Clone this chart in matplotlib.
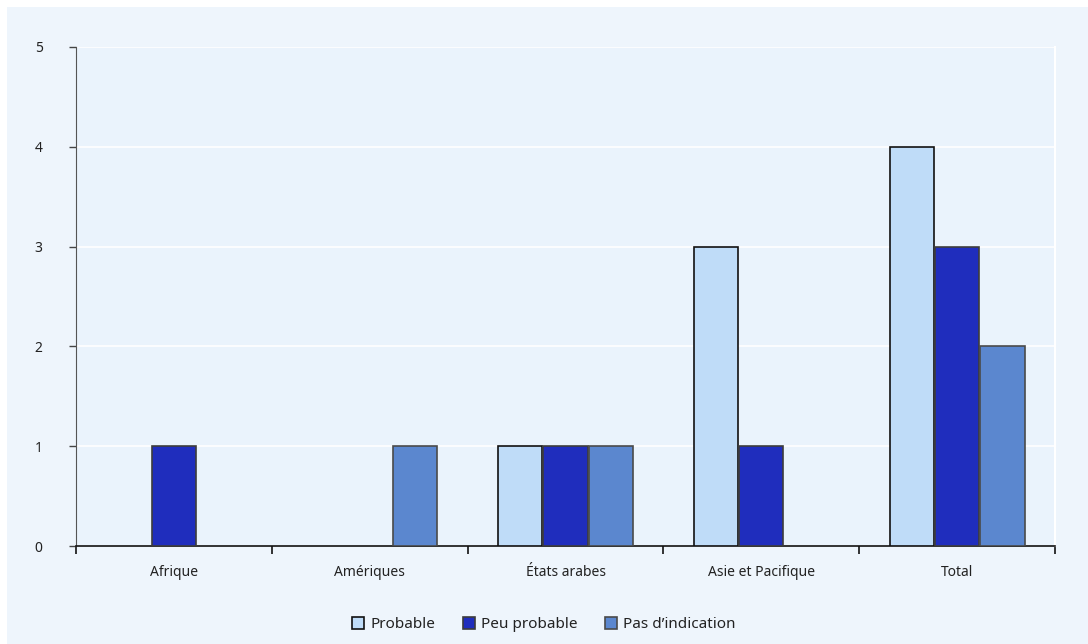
import numpy as np
import matplotlib.pyplot as plt
from matplotlib.patches import Rectangle

plt.rcParams['font.family'] = ['Noto Sans', 'DejaVu Sans']

regions = ["Afrique", "Amériques", "États arabes", "Asie et Pacifique", "Total"]
series_names = ["Probable", "Peu probable", "Pas d’indication"]
probable = [0, 0, 1, 3, 4]
peu_probable = [1, 0, 1, 1, 3]
pas_indication = [0, 1, 1, 0, 2]

colors = ["#bfdcf8", "#1f2dbd", "#5b87cf"]
edges = ["#111111", "#3c3c3c", "#4a4a4a"]

fig = plt.figure(figsize=(10.88, 6.44), dpi=100, facecolor="white")
# light panel behind everything, with a thin white margin
fig.patches.append(Rectangle((7 / 1088, 0), 1 - 7 / 1088, 1 - 7 / 644,
                             transform=fig.transFigure, facecolor="#eef5fc",
                             edgecolor="none", zorder=-10))

ax = fig.add_axes([76 / 1088, 1 - 546 / 644, (1055 - 76) / 1088, (546 - 47) / 644])
ax.set_facecolor("#eaf3fc")

x = np.arange(len(regions))
w = 0.225
step = 0.232
handles = []
for i, (vals, c, ec) in enumerate(zip([probable, peu_probable, pas_indication], colors, edges)):
    bars = ax.bar(x + (i - 1) * step, vals, width=w, color=c, edgecolor=ec,
                  linewidth=1.2, zorder=3)
    # empty categories get no outline
    for b, v in zip(bars, vals):
        if v == 0:
            b.set_linewidth(0)
    handles.append(Rectangle((0, 0), 1, 1, facecolor=c, edgecolor=ec, linewidth=1.2,
                             label=series_names[i]))

ax.set_xlim(-0.5, len(regions) - 0.5)
ax.set_ylim(0, 5)
ax.set_yticks(range(6))
ax.yaxis.grid(True, color="white", linewidth=1.2, zorder=1)
ax.set_axisbelow(True)

ax.set_xticks(np.arange(-0.5, len(regions), 1.0))
ax.set_xticklabels([])
ax.set_xticks(x, minor=True)
ax.set_xticklabels(regions, minor=True)
ax.tick_params(axis="x", which="major", length=6, width=1.2, color="#111111")
ax.tick_params(axis="x", which="minor", length=0, pad=14, labelsize=10, labelcolor="#222222")
ax.tick_params(axis="y", length=5, width=1, color="#444444", labelsize=10,
               labelcolor="#222222", pad=19)

ax.spines["top"].set_visible(False)
ax.spines["right"].set_color("white")
ax.spines["right"].set_linewidth(1.5)
ax.spines["left"].set_color("#555555")
ax.spines["bottom"].set_color("#111111")
ax.spines["bottom"].set_linewidth(1.2)

leg = fig.legend(handles=handles, loc="lower center", bbox_to_anchor=(0.5, -0.003), ncol=3,
                 frameon=False, fontsize=11, handlelength=0.8, handleheight=0.8,
                 handletextpad=0.4, columnspacing=1.8)
for t in leg.get_texts():
    t.set_color("#222222")

fig.savefig("out.png", dpi=100, facecolor=fig.get_facecolor())
